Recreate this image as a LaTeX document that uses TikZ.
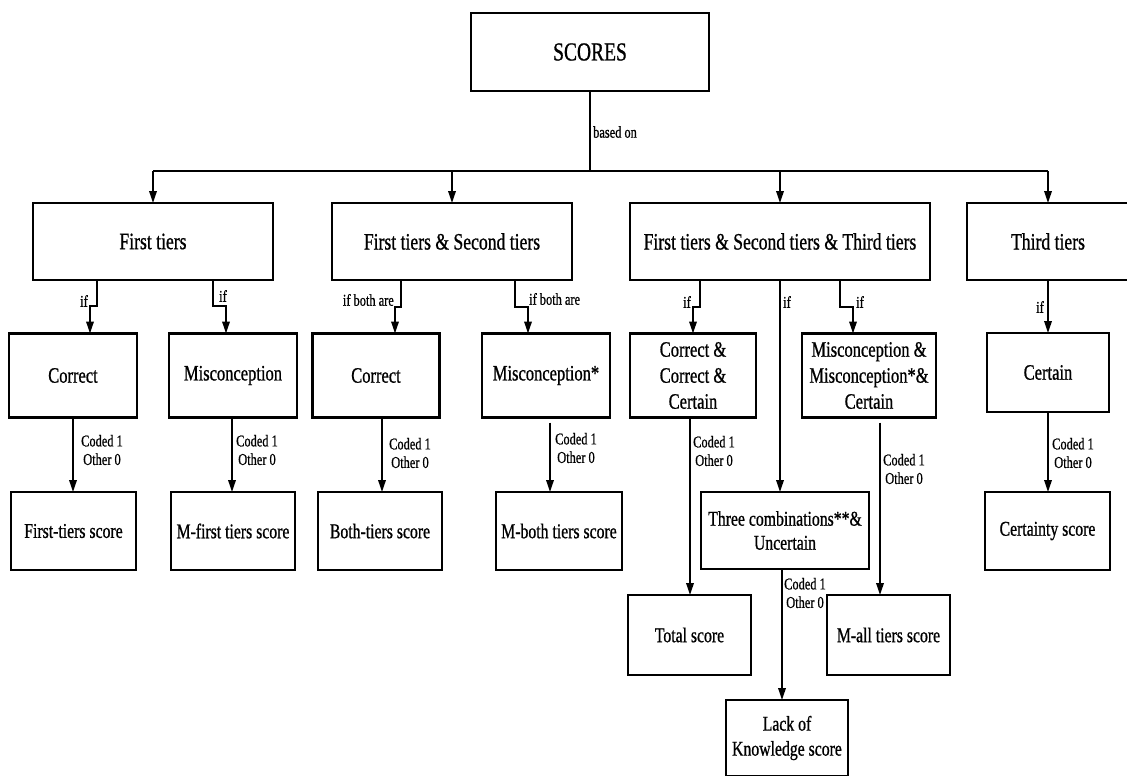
\documentclass[tikz,border=0pt]{standalone}
\usepackage{fontspec}
\setmainfont{Liberation Serif}[FakeStretch=0.75,FakeBold=0.8]
\usetikzlibrary{arrows.meta}
\begin{document}
\begin{tikzpicture}[x=1pt,y=-1pt,
  box/.style={draw,line width=2.1pt,inner sep=2pt,outer sep=0pt,align=center,font=\fontsize{22}{26}\selectfont},
  lone/.style={minimum height=77pt,font=\fontsize{23.5}{26}\selectfont},
  ltwo/.style={minimum height=84pt},
  lsc/.style={minimum height=78pt,font=\fontsize{21}{25}\selectfont},
  conn/.style={line width=1.8pt},
  arr/.style={conn,-{Triangle[length=12pt,width=7.5pt]}},
  lbl/.style={font=\fontsize{16.5}{18.5}\selectfont,inner sep=0pt,align=center},
  ]
\useasboundingbox (0,0) rectangle (1127,776);

% top
\node[box,minimum width=238pt,minimum height=78pt,font=\fontsize{26}{28}\selectfont] (scores) at (590,52) {SCORES};

% level 1
\node[box,lone,minimum width=240pt] (ft)  at (153,241.5) {First tiers};
\node[box,lone,minimum width=240pt] (fs)  at (452,241.5) {First tiers \& Second tiers};
\node[box,lone,minimum width=300pt] (fst) at (780,241.5) {First tiers \& Second tiers \& Third tiers};
\node[box,lone,minimum width=162pt] (tt)  at (1048,241.5) {Third tiers};

% level 2
\node[box,ltwo,minimum width=128pt] (c1)  at (73,375.5) {Correct};
\node[box,ltwo,minimum width=128pt] (m1)  at (233,375.5) {Misconception};
\node[box,ltwo,minimum width=127pt] (c2)  at (376,375.5) {Correct};
\node[box,ltwo,minimum width=128pt] (m2)  at (546,375.5) {Misconception*};
\node[box,ltwo,minimum width=126pt] (ccc) at (693,375.5) {Correct \&\\Correct \&\\Certain};
\node[box,ltwo,minimum width=134pt] (mmc) at (869,375.5) {Misconception \&\\Misconception*\&\\Certain};
\node[box,minimum width=122pt,minimum height=79pt] (cert) at (1048,372.5) {Certain};

% score row
\node[box,lsc,minimum width=125pt] (s1) at (73.5,531) {First-tiers score};
\node[box,lsc,minimum width=124pt] (s2) at (233,531) {M-first tiers score};
\node[box,lsc,minimum width=124pt] (s3) at (380,531) {Both-tiers score};
\node[box,lsc,minimum width=126pt] (s4) at (559,531) {M-both tiers score};
\node[box,minimum width=168pt,minimum height=77pt,font=\fontsize{21}{24}\selectfont] (tc) at (785,530.5) {Three combinations**\&\\Uncertain};
\node[box,lsc,minimum width=125pt] (cs) at (1047.5,531) {Certainty score};

% lower rows
\node[box,minimum width=123pt,minimum height=80pt,font=\fontsize{21}{25}\selectfont] (total) at (689.5,635) {Total score};
\node[box,minimum width=123pt,minimum height=80pt,font=\fontsize{21}{25}\selectfont] (mall) at (888.5,635) {M-all tiers score};
\node[box,minimum width=122pt,minimum height=76pt,font=\fontsize{21}{25}\selectfont] (lk) at (787,738) {Lack of\\Knowledge score};

% trunk
\coordinate (j) at (590,171);
\draw[conn] (scores.south) -- (j);
\draw[conn] (ft.north |- j) -- (tt.north |- j);
\draw[arr] (ft.north |- j) -- (ft.north);
\draw[arr] (fs.north |- j) -- (fs.north);
\draw[arr] (fst.north |- j) -- (fst.north);
\draw[arr] (tt.north |- j) -- (tt.north);
\node[lbl,anchor=west] (lbased) at (593,132) {based on};

% level 1 -> level 2
\draw[arr] ([xshift=-56pt]ft.south) -- ++(0,26) -- ++(-7,0) -- ([xshift=17pt]c1.north);
\draw[arr] ([xshift=60pt]ft.south) -- ++(0,26) -- ++(13,0) -- ([xshift=-7pt]m1.north);
\draw[arr] ([xshift=-51pt]fs.south) -- ++(0,27) -- ++(-6,0) -- ([xshift=19pt]c2.north);
\draw[arr] ([xshift=63pt]fs.south) -- ++(0,27) -- ++(13,0) -- ([xshift=-18pt]m2.north);
\draw[arr] ([xshift=-80pt]fst.south) -- ++(0,27) -- ++(-7,0) -- (ccc.north);
\draw[arr] (fst.south) -- (fst.south |- tc.north);
\draw[arr] ([xshift=60pt]fst.south) -- ++(0,27) -- ++(13,0) -- ([xshift=-16pt]mmc.north);
\draw[arr] (tt.south) -- (cert.north);

\node[lbl,anchor=east] (if1) at (88,301) {if};
\node[lbl,anchor=west] (if2) at (219,296) {if};
\node[lbl,anchor=east] (if3) at (394,300) {if both are};
\node[lbl,anchor=west] (if4) at (529,299) {if both are};
\node[lbl,anchor=east] (if5) at (691,302) {if};
\node[lbl,anchor=west] (if6) at (783,302) {if};
\node[lbl,anchor=west] (if7) at (856,302) {if};
\node[lbl,anchor=east] (if8) at (1044,307) {if};

% level 2 -> scores
\draw[arr] (c1.south) -- (c1.south |- s1.north);
\draw[arr] ([xshift=-1pt]m1.south) -- ([xshift=-1pt]m1.south |- s2.north);
\draw[arr] ([xshift=6pt]c2.south) -- ([xshift=6pt]c2.south |- s3.north);
\draw[arr] ([xshift=4pt,yshift=-5pt]m2.south) -- ([xshift=4pt]m2.south |- s4.north);
\draw[arr] ([xshift=0.5pt]total.north |- ccc.south) -- ([xshift=0.5pt]total.north);
\draw[arr] ([xshift=11pt,yshift=-5pt]mmc.south) -- ([xshift=-8.5pt]mall.north);
\draw[arr] ([xshift=-3pt]tc.south) -- ([xshift=-5pt]lk.north);
\draw[arr] (cert.south) -- (cert.south |- cs.north);

\node[lbl,anchor=west] (k1) at (81,450) {Coded 1\\Other 0};
\node[lbl,anchor=west] (k2) at (236,450) {Coded 1\\Other 0};
\node[lbl,anchor=west] (k3) at (389,453) {Coded 1\\Other 0};
\node[lbl,anchor=west] (k4) at (555,448) {Coded 1\\Other 0};
\node[lbl,anchor=west] (k5) at (693,451) {Coded 1\\Other 0};
\node[lbl,anchor=west] (k6) at (883,469) {Coded 1\\Other 0};
\node[lbl,anchor=west] (k7) at (784,593) {Coded 1\\Other 0};
\node[lbl,anchor=west] (k8) at (1052,453) {Coded 1\\Other 0};
\end{tikzpicture}
\end{document}
